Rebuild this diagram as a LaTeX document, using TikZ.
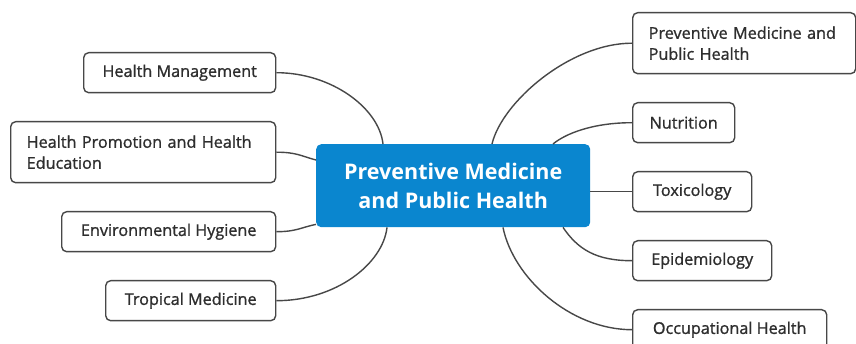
\documentclass[tikz,border=0pt]{standalone}
\usepackage{fontspec}
\setmainfont{Open Sans}
\newfontfamily\topicfont{Open Sans}[FakeBold=1.1]
\usetikzlibrary{calc}
\definecolor{edgegray}{HTML}{474747}
\definecolor{txtgray}{HTML}{2E2E2E}
\definecolor{mainblue}{HTML}{0A86CF}
\begin{document}
\begin{tikzpicture}[x=1pt,y=-1pt,
  topic/.style={draw=edgegray, line width=1.4pt, rounded corners=5pt, fill=white,
    text=txtgray, font=\topicfont\fontsize{16.2}{21}\selectfont, inner sep=0pt, anchor=north west},
  multi/.style={topic, align=left, text width=#1, inner xsep=16pt},
  central/.style={fill=mainblue, rounded corners=5pt, text=white, align=center,
    font=\fontsize{21.5}{29}\selectfont\bfseries, inner sep=0pt, anchor=north west,
    minimum width=274pt, minimum height=83pt},
  link/.style={draw=edgegray, line width=1.4pt}]
\clip (0,0) rectangle (856,344);
\fill[white] (0,0) rectangle (856,344);
% central
\node[central] (c) at (316,144) {Preventive Medicine\\and Public Health};
% left
\node[topic, minimum width=192pt, minimum height=40pt] (hm) at (83,52) {Health Management};
\node[multi=233pt, minimum height=61pt] (hp) at (10,121) {Health Promotion and Health\\Education};
\node[topic, minimum width=214pt, minimum height=40pt] (eh) at (61,211) {Environmental Hygiene};
\node[topic, minimum width=170pt, minimum height=40pt] (tm) at (105,280) {Tropical Medicine};
% right
\node[multi=191pt, minimum height=61pt] (pm) at (632,12) {Preventive Medicine and\\Public Health};
\node[topic, minimum width=102pt, minimum height=40pt] (nu) at (632,102) {Nutrition};
\node[topic, minimum width=119pt, minimum height=40pt] (tx) at (632,171) {Toxicology};
\node[topic, minimum width=139pt, minimum height=40pt] (ep) at (632,240) {Epidemiology};
\node[topic, minimum width=194pt, minimum height=40pt] (oh) at (632,309) {Occupational Health};
% connectors
\draw[link] (hm.east) .. controls +(55,0) and +(-4,-36) .. ([xshift=67pt]c.north west);
\draw[link] (hp.east) .. controls +(20,0) and +(-15,-4) .. ([yshift=-16pt]c.north west);
\draw[link] (eh.east) .. controls +(20,0) and +(-15,3) .. ([yshift=3pt]c.south west);
\draw[link] (tm.east) .. controls +(60,0) and +(-4,36) .. ([xshift=71pt]c.south west);
\draw[link] (pm.west) .. controls +(-62,0) and +(10,-42) .. ([xshift=176pt]c.north west);
\draw[link] (nu.west) .. controls +(-40,0) and +(12,-10) .. ([xshift=237pt]c.north west);
\draw[link] (tx.west) -- (tx.west -| c.east);
\draw[link] (ep.west) .. controls +(-36,0) and +(15,22) .. ([xshift=247pt]c.south west);
\draw[link] (oh.west) .. controls +(-62,0) and +(10,50)  .. ([xshift=187pt]c.south west);
\end{tikzpicture}
\end{document}
